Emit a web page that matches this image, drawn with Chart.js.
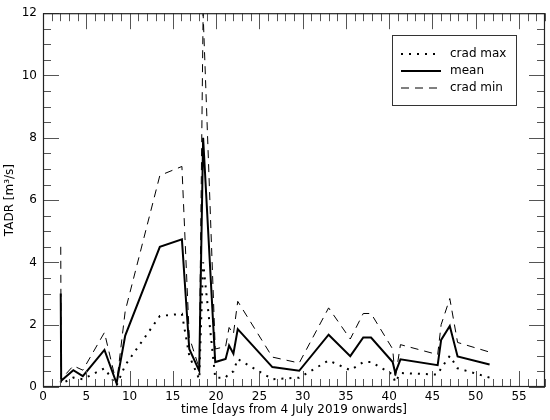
<!DOCTYPE html>
<html>
<head>
<meta charset="utf-8">
<script src="https://cdn.jsdelivr.net/npm/chart.js@4"></script>
<style>
  html, body { margin: 0; padding: 0; background: #fff; }
  #wrap { width: 550px; height: 420px; }
</style>
</head>
<body>
<div id="wrap"><canvas id="tadrChart" width="550" height="420"></canvas></div>
<script>
  /* times (days from 4 July 2019) shared by all three curves */
  const days = [2.05, 2.1, 3.5, 4.6, 7.1, 8.5, 9.5, 13.5, 16.05, 16.9, 18.05, 18.5, 19.9, 21.1, 21.5, 22.0, 22.5,
                26.5, 29.6, 33.0, 35.5, 37.0, 37.9, 40.4, 40.7, 41.3, 45.6, 46.0, 47.0, 47.9, 51.6];
  const cradMax = [0.2, 0.1, 0.3, 0.25, 0.6, 0.05, 0.7, 2.28, 2.35, 1.0, 0.25, 4.0, 0.3, 0.3, 0.45, 0.5, 0.9,
                   0.25, 0.3, 0.85, 0.54, 0.8, 0.8, 0.4, 0.15, 0.45, 0.4, 0.6, 1.0, 0.6, 0.3];
  const meanVals = [3.0, 0.2, 0.54, 0.35, 1.19, 0.12, 1.65, 4.5, 4.74, 1.22, 0.52, 8.0, 0.8, 0.9, 1.33, 1.07, 1.86,
                    0.64, 0.52, 1.68, 0.99, 1.59, 1.59, 0.8, 0.45, 0.89, 0.7, 1.51, 1.96, 0.98, 0.72];
  const cradMin = [4.5, 0.25, 0.68, 0.54, 1.75, 0.1, 2.44, 6.79, 7.08, 1.6, 0.6, 12.0, 1.22, 1.3, 1.91, 1.7, 2.75,
                   0.96, 0.77, 2.54, 1.54, 2.36, 2.36, 1.22, 0.27, 1.36, 1.04, 2.0, 2.84, 1.43, 1.12];

  const seriesNames = ["crad max", "mean", "crad min"];
  const xTickLabels = [0, 5, 10, 15, 20, 25, 30, 35, 40, 45, 50, 55];

  const FONT = "'DejaVu Sans', sans-serif";

  function toPoints(vals) {
    return days.map((d, i) => ({ x: d, y: vals[i] }));
  }

  const lineStyles = [
    { borderWidth: 2, borderDash: [2, 6] },
    { borderWidth: 2, borderDash: [] },
    { borderWidth: 1, borderDash: [8, 6] }
  ];

  /* inward ticks on all four sides, frame and boxed legend */
  const frameTicks = {
    id: "frameTicks",
    afterDraw(chart) {
      const ctx = chart.ctx;
      const a = chart.chartArea;
      const xs = chart.scales.x, ys = chart.scales.y;
      ctx.save();
      ctx.strokeStyle = "#555";
      ctx.lineWidth = 1;
      ctx.beginPath();
      for (let v = 0; v <= 58; v++) {
        const px = Math.round(xs.getPixelForValue(v)) + 0.5;
        const len = v % 5 === 0 ? 16 : 8;
        ctx.moveTo(px, a.bottom); ctx.lineTo(px, a.bottom - len);
        ctx.moveTo(px, a.top); ctx.lineTo(px, a.top + len);
      }
      for (let v = 0; v <= 12; v += 0.5) {
        const py = Math.round(ys.getPixelForValue(v)) + 0.5;
        const len = v % 2 === 0 ? 16 : 8;
        ctx.moveTo(a.left, py); ctx.lineTo(a.left + len, py);
        ctx.moveTo(a.right, py); ctx.lineTo(a.right - len, py);
      }
      ctx.stroke();

      ctx.strokeStyle = "#222";
      ctx.lineWidth = 1.2;
      ctx.strokeRect(a.left + 0.5, a.top + 0.5, a.right - a.left - 1, a.bottom - a.top - 1);

      // legend
      const lx = 392.5, ly = 35.5, lw = 124, lh = 70;
      ctx.fillStyle = "#fff";
      ctx.fillRect(lx, ly, lw, lh);
      ctx.strokeStyle = "#333";
      ctx.lineWidth = 1;
      ctx.strokeRect(lx, ly, lw, lh);
      const rows = [54, 71, 88];
      seriesNames.forEach((name, i) => {
        const st = lineStyles[i];
        ctx.strokeStyle = "#000";
        ctx.lineWidth = st.borderWidth;
        ctx.setLineDash(st.borderDash);
        ctx.beginPath();
        ctx.moveTo(401, rows[i]);
        ctx.lineTo(441, rows[i]);
        ctx.stroke();
        ctx.setLineDash([]);
        ctx.fillStyle = "#000";
        ctx.font = "12px " + FONT;
        ctx.textBaseline = "middle";
        ctx.textAlign = "left";
        ctx.fillText(name, 450, rows[i]);
      });
      ctx.restore();
    }
  };

  const datasets = [cradMax, meanVals, cradMin].map((vals, i) => ({
    label: seriesNames[i],
    data: toPoints(vals),
    borderColor: "#000",
    borderWidth: lineStyles[i].borderWidth,
    borderDash: lineStyles[i].borderDash,
    fill: false,
    tension: 0,
    pointRadius: 0
  }));

  new Chart(document.getElementById("tadrChart").getContext("2d"), {
    type: "line",
    data: { datasets },
    plugins: [frameTicks],
    options: {
      responsive: false,
      animation: false,
      layout: { padding: { top: 8, right: 5, left: 0, bottom: 0 } },
      plugins: {
        legend: { display: false },
        tooltip: { enabled: false }
      },
      scales: {
        x: {
          type: "linear",
          min: 0,
          max: 58,
          afterBuildTicks(scale) {
            scale.ticks = xTickLabels.map(v => ({ value: v }));
          },
          afterFit(scale) { scale.height = 33; },
          grid: { display: false, drawTicks: false },
          border: { display: false },
          ticks: {
            color: "#000",
            padding: 3,
            maxRotation: 0,
            autoSkip: false,
            font: { family: FONT, size: 12 }
          },
          title: {
            display: true,
            text: "time [days from 4 July 2019 onwards]",
            color: "#000",
            padding: { top: 0, bottom: 3 },
            font: { family: FONT, size: 12 }
          }
        },
        y: {
          min: 0,
          max: 12,
          afterFit(scale) { scale.width = 43; },
          grid: { display: false, drawTicks: false },
          border: { display: false },
          ticks: {
            stepSize: 2,
            color: "#000",
            padding: 6,
            font: { family: FONT, size: 12 }
          },
          title: {
            display: true,
            text: "TADR [m³/s]",
            color: "#000",
            padding: { top: 3, bottom: 0 },
            font: { family: FONT, size: 12 }
          }
        }
      }
    }
  });
</script>
</body>
</html>
